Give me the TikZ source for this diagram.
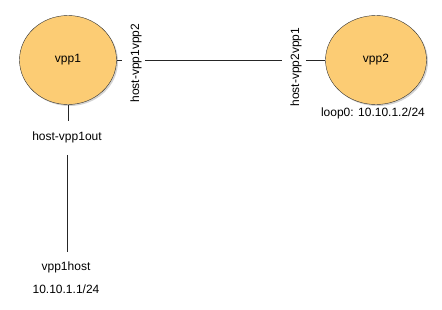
\documentclass[tikz,border=0pt]{standalone}
\usepackage{fontspec}
\setmainfont{Liberation Sans}
\usetikzlibrary{positioning, shadows, shapes.geometric}

\definecolor{vppfill}{RGB}{252,204,116}

\tikzset{
  vppnode/.style={draw=black!80, ellipse, fill=vppfill, drop shadow={opacity=0.35, shadow xshift=1.5pt, shadow yshift=-1.5pt}, inner sep=0pt},
  iflabel/.style={inner sep=0pt, font=\fontsize{12}{14}\selectfont},
  ifrot/.style={iflabel, rotate=90},
  link/.style={draw=black!85, line width=0.8pt}
}

\begin{document}
\begin{tikzpicture}[x=1pt, y=-1pt]
\useasboundingbox (0,0) rectangle (442,309);

% Nodes
\node[vppnode, minimum width=97pt, minimum height=89pt] (vpp1) at (68,60) {\fontsize{12}{14}\selectfont vpp1};
\node[vppnode, minimum width=101pt, minimum height=89pt] (vpp2) at (376,60) {\fontsize{12}{14}\selectfont vpp2};

\node[ifrot] (p1vpp2) at (136,63) {host-vpp1vpp2};
\node[ifrot] (p2vpp1) at (296,67) {host-vpp2vpp1};
\node[iflabel] (p1out) at (67,137) {host-vpp1out};
\node[iflabel] (hostif) at (66,267) {vpp1host};
\node[iflabel] (hostip) at (66,289) {10.10.1.1/24};
\node[iflabel] (loopip) at (373,113) {loop0: 10.10.1.2/24};

% Links
\draw[link, shorten >=8pt] (vpp1.east) -- (vpp1.east -| p1vpp2.north);
\draw[link, shorten <=3pt, shorten >=8pt] (vpp1.east -| p1vpp2.south) -- (vpp1.east -| p2vpp1.north);
\draw[link, shorten <=4pt] (vpp1.east -| p2vpp1.south) -- (vpp2.west);
\draw[link, shorten >=10pt] (vpp1.south) -- (p1out.north -| vpp1.south);
\draw[link, shorten <=12pt, shorten >=9pt] (p1out.south) -- (hostif.north -| p1out.south);

\end{tikzpicture}
\end{document}
